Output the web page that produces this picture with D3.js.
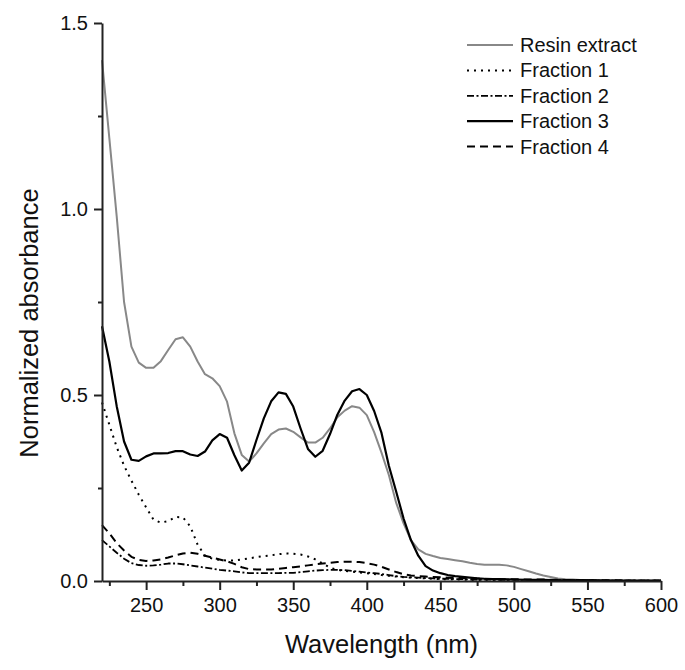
<!DOCTYPE html>
<html>
<head>
<meta charset="utf-8">
<script src="https://cdn.jsdelivr.net/npm/d3@7"></script>
<style>
  html, body { margin: 0; padding: 0; background: #fff; }
  svg { display: block; font-family: "Liberation Sans", Arial, sans-serif; }
</style>
</head>
<body>
<svg id="chart" width="685" height="670"></svg>
<script>
// ---------- data ----------
const wavelengthsResin = [220,225,230,235,240,245,250,255,260,265,270,275,280,285,290,295,300,305,310,315,320,325,330,335,340,345,350,355,360,365,370,375,380,385,390,395,400,405,410,415,420,425,430,435,440,445,450,455,460,465,470,475,480,485,490,495,500,505,510,515,520,525,530,535,540,545,550,560,570,580,590,600];
const resinExtract = [1.40,1.19,0.98,0.75,0.63,0.587,0.573,0.573,0.591,0.621,0.650,0.655,0.630,0.590,0.556,0.545,0.524,0.482,0.397,0.339,0.321,0.343,0.370,0.395,0.407,0.410,0.401,0.386,0.372,0.372,0.385,0.410,0.440,0.458,0.470,0.466,0.446,0.400,0.345,0.285,0.210,0.155,0.110,0.085,0.073,0.067,0.062,0.059,0.056,0.053,0.049,0.046,0.044,0.044,0.044,0.042,0.038,0.032,0.026,0.020,0.015,0.011,0.007,0.005,0.004,0.003,0.002,0.002,0.001,0.001,0.001,0.001];

const wavelengthsFrac = [220,225,230,235,240,245,250,255,260,265,270,275,280,285,290,295,300,305,310,315,320,325,330,335,340,345,350,355,360,365,370,375,380,385,390,395,400,405,410,415,420,425,430,435,440,445,450,455,460,465,470,475,480,490,500,510,520,530,540,550,560,570,580,590,600];
const fraction1 = [0.48,0.42,0.36,0.31,0.27,0.232,0.198,0.165,0.157,0.161,0.172,0.171,0.147,0.098,0.068,0.060,0.057,0.055,0.055,0.058,0.061,0.064,0.067,0.069,0.072,0.074,0.073,0.071,0.066,0.058,0.047,0.036,0.030,0.027,0.025,0.023,0.021,0.019,0.016,0.014,0.012,0.010,0.009,0.008,0.007,0.006,0.005,0.005,0.004,0.004,0.003,0.003,0.003,0.002,0.002,0.002,0.002,0.001,0.001,0.001,0.001,0.001,0.001,0.001,0.001];
const fraction2 = [0.11,0.093,0.076,0.060,0.048,0.043,0.041,0.042,0.044,0.047,0.047,0.045,0.042,0.039,0.036,0.033,0.030,0.028,0.026,0.023,0.021,0.021,0.021,0.021,0.021,0.022,0.022,0.024,0.026,0.028,0.029,0.030,0.030,0.029,0.027,0.025,0.023,0.021,0.019,0.016,0.013,0.011,0.010,0.009,0.008,0.007,0.006,0.006,0.005,0.005,0.004,0.004,0.004,0.003,0.003,0.003,0.002,0.002,0.002,0.002,0.001,0.001,0.001,0.001,0.001];
const fraction3 = [0.685,0.59,0.47,0.375,0.326,0.323,0.335,0.343,0.343,0.344,0.349,0.349,0.340,0.336,0.348,0.378,0.395,0.385,0.338,0.297,0.318,0.379,0.437,0.483,0.507,0.503,0.469,0.410,0.355,0.334,0.350,0.395,0.447,0.485,0.510,0.516,0.500,0.457,0.398,0.310,0.240,0.168,0.110,0.068,0.040,0.028,0.021,0.016,0.013,0.011,0.009,0.007,0.006,0.005,0.004,0.003,0.003,0.002,0.002,0.002,0.001,0.001,0.001,0.001,0.001];
const fraction4 = [0.15,0.128,0.102,0.082,0.065,0.057,0.054,0.055,0.058,0.063,0.069,0.074,0.076,0.073,0.068,0.063,0.058,0.053,0.046,0.037,0.032,0.031,0.031,0.031,0.033,0.035,0.037,0.039,0.042,0.045,0.047,0.049,0.051,0.052,0.052,0.051,0.048,0.044,0.038,0.031,0.024,0.018,0.015,0.013,0.012,0.011,0.010,0.009,0.008,0.008,0.007,0.007,0.006,0.005,0.005,0.004,0.004,0.003,0.003,0.002,0.002,0.002,0.001,0.001,0.001];

const seriesNames = ["Resin extract","Fraction 1","Fraction 2","Fraction 3","Fraction 4"];
const xMajorTicks = [250,300,350,400,450,500,550,600];
const xMinorTicks = [225,275,325,375,425,475,525,575];
const yMajorTicks = [0.0,0.5,1.0,1.5];
const yMinorTicks = [0.25,0.75,1.25];

(function () {
// ---------- styles ----------
const styles = {
  "Resin extract": {stroke:"#888888", width:2, dash:null},
  "Fraction 1":   {stroke:"#000", width:2, dash:"2,5"},
  "Fraction 2":   {stroke:"#000", width:1.8, dash:"7,2.5,2,2.5"},
  "Fraction 3":   {stroke:"#000", width:2.2, dash:null},
  "Fraction 4":   {stroke:"#000", width:2, dash:"8,5"}
};

const series = [
  {name:"Resin extract", x:wavelengthsResin, y:resinExtract},
  {name:"Fraction 1", x:wavelengthsFrac, y:fraction1},
  {name:"Fraction 2", x:wavelengthsFrac, y:fraction2},
  {name:"Fraction 3", x:wavelengthsFrac, y:fraction3},
  {name:"Fraction 4", x:wavelengthsFrac, y:fraction4}
];

// ---------- layout ----------
const svg = d3.select("#chart");
const mLeft = 102, mRight = 661, mTop = 23, mBottom = 581;

const x = d3.scaleLinear().domain([220,600]).range([mLeft,mRight]);
const y = d3.scaleLinear().domain([0,1.5]).range([mBottom,mTop]);

// lines
const line = d3.line().x(d => x(d[0])).y(d => y(d[1])).curve(d3.curveLinear);
const g = svg.append("g");
series.forEach(s => {
  const st = styles[s.name];
  const pts = s.x.map((w,i) => [w, s.y[i]]);
  g.append("path")
    .attr("d", line(pts))
    .attr("fill","none")
    .attr("stroke", st.stroke)
    .attr("stroke-width", st.width)
    .attr("stroke-linejoin","round")
    .attr("stroke-dasharray", st.dash);
});

// axes
const xAxis = d3.axisBottom(x).tickValues(xMajorTicks).tickSize(9).tickSizeOuter(0).tickPadding(8).tickFormat(d3.format("d"));
const xg = svg.append("g").attr("transform",`translate(0,${mBottom})`).call(xAxis);
const xMinor = d3.axisBottom(x).tickValues(xMinorTicks).tickSize(5).tickSizeOuter(0).tickFormat("");
const xmg = svg.append("g").attr("transform",`translate(0,${mBottom})`).call(xMinor);
xmg.select(".domain").remove();

const yAxis = d3.axisLeft(y).tickValues(yMajorTicks).tickSize(8).tickSizeOuter(0).tickPadding(6).tickFormat(d3.format(".1f"));
const yg = svg.append("g").attr("transform",`translate(${mLeft},0)`).call(yAxis);
const yMinor = d3.axisLeft(y).tickValues(yMinorTicks).tickSize(4).tickSizeOuter(0).tickFormat("");
const ymg = svg.append("g").attr("transform",`translate(${mLeft},0)`).call(yMinor);
ymg.select(".domain").remove();

[xg,xmg,yg,ymg].forEach(a => {
  a.selectAll("path,line").attr("stroke","#222").attr("stroke-width",2);
  a.selectAll("text").attr("font-size",20).attr("fill","#111").attr("font-family","Liberation Sans, Arial, sans-serif");
});

// axis titles
svg.append("text").attr("x",(mLeft+mRight)/2).attr("y",653).attr("text-anchor","middle")
  .attr("font-size",25.5).attr("fill","#111").text("Wavelength (nm)");
svg.append("text").attr("transform","translate(38,323) rotate(-90)").attr("text-anchor","middle")
  .attr("font-size",25.5).attr("fill","#111").text("Normalized absorbance");

// legend
const legX0 = 467, legX1 = 513, legY0 = 45, legDy = 25.4;
seriesNames.forEach((n,i) => {
  const st = styles[n];
  const yy = legY0 + i*legDy;
  svg.append("line").attr("x1",legX0).attr("x2",legX1).attr("y1",yy).attr("y2",yy)
    .attr("stroke",st.stroke).attr("stroke-width",st.width).attr("stroke-dasharray",st.dash);
  svg.append("text").attr("x",520).attr("y",yy+7).attr("font-size",20).attr("fill","#111").text(n);
});
})();
</script>
</body>
</html>
